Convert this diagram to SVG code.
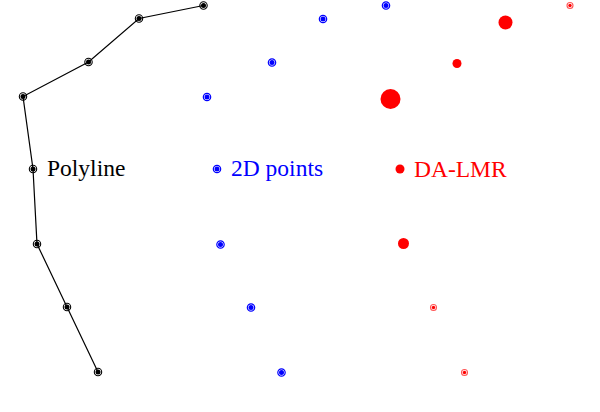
<svg xmlns="http://www.w3.org/2000/svg" width="600" height="412" viewBox="0 0 600 412">
<style>
.lbl{font-family:"Liberation Serif","Times New Roman",serif;font-size:23.5px}
</style>
<defs>
<g id="pk"><circle r="3.7" fill="none" stroke="#000" stroke-width="1.1"/><circle r="2.5" fill="#000"/></g>
<g id="pb"><circle r="3.7" fill="none" stroke="#00f" stroke-width="1.2"/><circle r="2.5" fill="#00f"/></g>
<g id="pr"><circle r="3" fill="none" stroke="#f55" stroke-width="1.1"/><circle r="1.7" fill="#f00"/></g>
</defs>
<rect width="600" height="412" fill="#fff"/>
<g id="connectors">
<polyline points="203.5,5.5 139,18.5 88.5,62 23,96.5 33,169 37,244 67,307 98,372" fill="none" stroke="#000" stroke-width="1.2"/>
</g>
<g id="polyline">
<use href="#pk" x="203.5" y="5.5"/>
<use href="#pk" x="139" y="18.5"/>
<use href="#pk" x="88.5" y="62"/>
<use href="#pk" x="23" y="96.5"/>
<use href="#pk" x="33" y="169"/>
<use href="#pk" x="37" y="244"/>
<use href="#pk" x="67" y="307"/>
<use href="#pk" x="98" y="372"/>
<text class="lbl" x="47" y="176" fill="#000">Polyline</text>
</g>
<g id="points2d">
<use href="#pb" x="386" y="5.5"/>
<use href="#pb" x="323" y="19"/>
<use href="#pb" x="272" y="62.5"/>
<use href="#pb" x="207" y="97"/>
<use href="#pb" x="217" y="169"/>
<use href="#pb" x="220.5" y="244.5"/>
<use href="#pb" x="251" y="307.5"/>
<use href="#pb" x="281.5" y="372.5"/>
<text class="lbl" x="231" y="176" fill="#00f">2D points</text>
</g>
<g id="dalmr">
<use href="#pr" x="570" y="5.5"/>
<circle cx="505.5" cy="22.5" r="7" fill="#f00"/>
<circle cx="457" cy="63.5" r="4.5" fill="#f00"/>
<circle cx="390.5" cy="99" r="10" fill="#f00"/>
<circle cx="400" cy="169" r="4.5" fill="#f00"/>
<circle cx="403.5" cy="243.5" r="5.5" fill="#f00"/>
<use href="#pr" x="433.5" y="307.5"/>
<use href="#pr" x="464.5" y="372.5"/>
<text class="lbl" x="414" y="177" fill="#f00">DA-LMR</text>
</g>
</svg>
